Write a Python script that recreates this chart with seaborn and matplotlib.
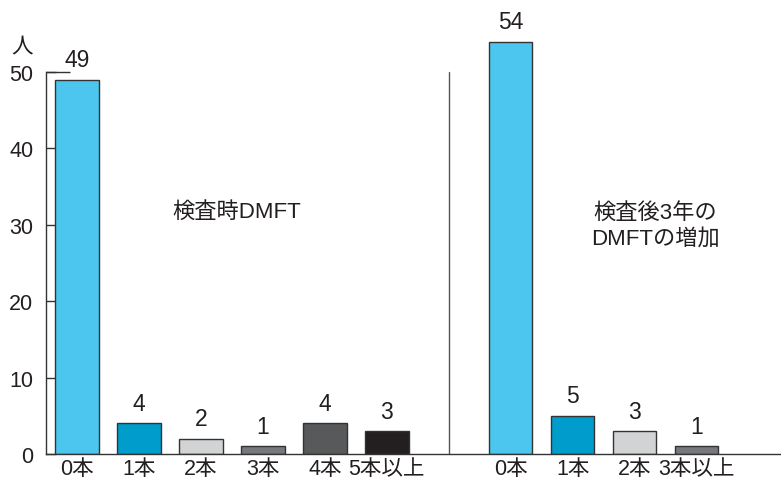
import matplotlib
matplotlib.use("Agg")
import matplotlib.pyplot as plt
import seaborn as sns
import numpy as np

# Données
gauche_cats = ["0本", "1本", "2本", "3本", "4本", "5本以上"]
gauche_vals = [49, 4, 2, 1, 4, 3]
gauche_couleurs = ["#4dc6ef", "#009ccc", "#d1d3d4", "#77787b", "#58595b", "#231f20"]

droite_cats = ["0本", "1本", "2本", "3本以上"]
droite_vals = [54, 5, 3, 1]
droite_couleurs = ["#4dc6ef", "#009ccc", "#d1d3d4", "#77787b"]

titre_gauche = "検査時DMFT"
titre_droite = "検査後3年の\nDMFTの増加"

sns.set_style("white")
plt.rcParams['font.family'] = ['Liberation Sans', 'Noto Sans CJK JP', 'DejaVu Sans']

# positions : 0..5 à gauche, 7..10 à droite, séparateur à 6
pos = list(range(len(gauche_cats))) + [7 + i for i in range(len(droite_cats))]
vals = gauche_vals + droite_vals
cats = gauche_cats + droite_cats
couleurs = gauche_couleurs + droite_couleurs

fig = plt.figure(figsize=(7.81, 4.81), dpi=100)
ax = fig.add_axes([46 / 781, 26 / 481, 1 - 46 / 781, 443 / 481])

sns.barplot(x=pos, y=vals, hue=pos, palette=couleurs, native_scale=True, saturation=1,
            legend=False, width=0.7, edgecolor="#333333", linewidth=1, ax=ax)

for x, v in zip(pos, vals):
    ax.text(x, v + 1.1, str(v), ha="center", va="bottom", fontsize=16.5, color="#231f20")

ax.set_xlim(-0.5, 11.36)
ax.set_ylim(0, 58)
ax.set_xticks(pos)
ax.set_xticklabels(cats, fontsize=15.5, color="#231f20")
ax.set_yticks([0, 10, 20, 30, 40, 50])
ax.set_yticklabels(["0", "10", "20", "30", "40", "50"], fontsize=15.5, color="#231f20")
ax.yaxis.remove_overlapping_locs = False
ax.set_yticks([50], minor=True)
ax.tick_params(axis="x", length=0, pad=3)
ax.tick_params(axis="y", which="both", left=True)
ax.tick_params(axis="y", which="major", direction="in", length=7, width=1, color="#333333", pad=9)
ax.tick_params(axis="y", which="minor", direction="in", length=17, width=1, color="#333333")

for s in ["top", "right"]:
    ax.spines[s].set_visible(False)
ax.spines["left"].set_bounds(0, 50)
ax.spines["left"].set_color("#333333")
ax.spines["bottom"].set_color("#333333")
ax.spines["left"].set_linewidth(1)
ax.spines["bottom"].set_linewidth(1)

# séparateur entre les deux groupes
ax.plot([6, 6], [0, 50], color="#555555", lw=1)

ax.text(2.57, 31.8, titre_gauche, ha="center", va="center", fontsize=16, color="#231f20")
ax.text(9.33, 30, titre_droite, ha="center", va="center", fontsize=16,
        color="#231f20", linespacing=1.3)

fig.text(22 / 781, 1 - 47 / 481, "人", ha="center", va="center", fontsize=15.5, color="#231f20")

fig.savefig("out.png", dpi=100)
